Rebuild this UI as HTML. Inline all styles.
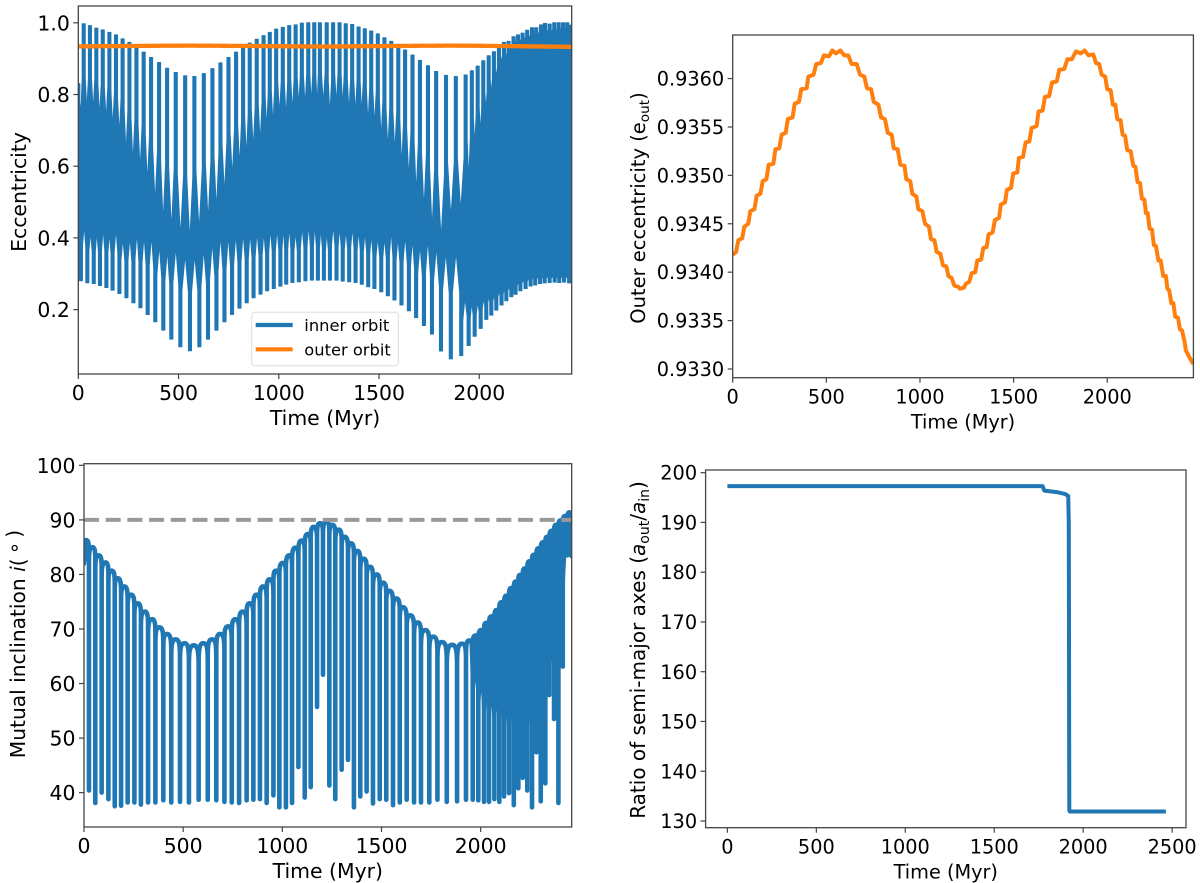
<!DOCTYPE html>
<html lang="en">
<head>
<meta charset="utf-8">
<title>Orbital evolution panels</title>
<style>
html,body{margin:0;padding:0;background:#fff;}
svg{display:block;font-family:"DejaVu Sans","Liberation Sans",sans-serif;fill:#000;}
</style>
</head>
<body>
<svg id="figure" xmlns="http://www.w3.org/2000/svg" width="1200" height="883" viewBox="0 0 1200 883"></svg>
<script>
// ---------- Panel A: inner orbit eccentricity ----------
const innerPeakTimes = [0,27,58,90,122,155,188,221,255,290,326,363,403,443,486,533,579,626,669,709,749,787,822,855,890,924,955,987,1020,1052,1084,1115,1147,1177,1205,1239,1271,1303,1334,1366,1398,1429,1461,1494,1527,1561,1596,1630,1667,1704,1744,1785,1834,1883,1932,1963,1992,2020,2047,2073,2098,2123,2146,2171,2193,2216,2239,2263,2284,2308,2328,2351,2374,2396,2418,2439,2456];
const innerPeakValues = [.83,.997,.992,.985,.98,.973,.966,.955,.945,.932,.918,.903,.889,.873,.861,.852,.85,.858,.872,.888,.903,.918,.931,.943,.954,.964,.973,.982,.987,.992,.994,.999,1,1,1,1,1,1,.997,.995,.988,.983,.977,.969,.958,.948,.936,.924,.91,.895,.88,.864,.853,.85,.854,.866,.879,.894,.908,.919,.931,.945,.948,.961,.966,.971,.979,.986,.986,.994,.998,.996,1,1,1,1,.993];
const innerNotchValues = [.743,.747,.747,.729,.72,.70,.678,.627,.599,.58,.543,.487,.431,.413,.394,.385,.413,.44,.468,.515,.561,.59,.613,.64,.655,.692,.706,.738,.729,.743,.757,.761,.766,.761,.768,.734,.766,.761,.743,.738,.738,.71,.706,.668,.636,.631,.59,.557,.515,.47,.413,.39,.45,.47,.552,.65,.683,.747,.794,.84,.887,.896,.924,.94,.945,.95,.955,.96,.965,.97,.97,.97,.97,.975,.975,.97];
const innerTroughTimes = [13,45,77,108,140,171,205,240,275,310,346,384,424,464,509,557,604,647,689,729,767,804,840,874,909,942,975,1008,1037,1068,1100,1133,1165,1195,1225,1255,1288,1319,1351,1383,1414,1446,1477,1511,1544,1577,1612,1649,1685,1724,1764,1809,1858,1910,1947,1977,2007,2035,2060,2085,2111,2135,2160,2181,2205,2231,2256,2279,2303,2326,2351,2376,2399,2423,2448];
const innerTroughValues = [.2807,.2751,.2733,.2677,.2621,.2547,.2454,.2333,.2193,.2054,.1868,.1663,.1431,.118,.0966,.0854,.0966,.118,.1431,.1663,.1868,.2044,.2193,.2333,.2435,.2528,.2593,.2658,.2714,.276,.2779,.2807,.2826,.2826,.2826,.2826,.2826,.2797,.278,.276,.271,.264,.259,.25,.239,.227,.213,.197,.178,.156,.132,.085,.063,.072,.1,.126,.148,.173,.185,.199,.213,.225,.236,.243,.253,.259,.266,.269,.273,.275,.276,.277,.276,.277,.275];
const innerGapValues = [.441,.422,.422,.431,.422,.431,.403,.408,.422,.413,.413,.385,.371,.38,.357,.357,.375,.394,.413,.413,.417,.422,.422,.422,.422,.431,.431,.436,.436,.422,.436,.441,.441,.431,.422,.441,.436,.427,.436,.427,.422,.417,.408,.408,.427,.408,.413,.403,.385,.403,.38,.366,.366,.236,.225,.225,.235,.245,.245,.255,.26,.268,.272,.28,.285,.29,.295,.295,.295,.295,.295,.295,.295,.295];

// ---------- Panels A + C: outer orbit eccentricity ----------
const outerTimes = [0,18,30,51,62,83,94,116,128,148,160,180,192,217,228,249,261,283,294,320,331,354,366,395,404,432,446,471,487,514,532,552,575,596,617,635,662,680,703,717,739,753,778,792,813,828,849,860,881,895,917,927,948,959,981,991,1013,1027,1048,1059,1077,1089,1109,1123,1141,1152,1169,1184,1204,1213,1235,1245,1263,1276,1295,1306,1327,1338,1356,1366,1388,1400,1422,1432,1454,1464,1486,1498,1520,1528,1550,1564,1584,1596,1623,1633,1655,1667,1690,1705,1730,1744,1771,1787,1811,1833,1858,1879,1900,1925,1940,1957,1970,1989,2000,2018,2030,2043,2054,2071,2082,2095,2107,2125,2139,2150,2162,2175,2185,2198,2207,2216,2226,2239,2249,2260,2273,2285,2299,2313,2321,2331,2342,2353,2363,2378,2388,2399,2413,2420,2442,2460];
const outerValues = [.93418,.93421,.93433,.93435,.93447,.9345,.93463,.93465,.93479,.93481,.93494,.93496,.93511,.93512,.93527,.93528,.93542,.93544,.93558,.9356,.93574,.93576,.93589,.9359,.93602,.93604,.93615,.93616,.93624,.93623,.93629,.93626,.93629,.93624,.93624,.93615,.93615,.93604,.93602,.9359,.93589,.93576,.93573,.9356,.93558,.93544,.93542,.93528,.93527,.93511,.9351,.93496,.93494,.93481,.93478,.93465,.93463,.9345,.93447,.93434,.93433,.93421,.93419,.93407,.93406,.93396,.93394,.93386,.93385,.93383,.93384,.93388,.9339,.93399,.934,.93412,.93413,.93425,.93426,.93439,.93441,.93454,.93456,.9347,.93472,.93485,.93487,.93502,.93503,.93518,.93519,.93534,.93535,.93549,.93551,.93566,.93567,.93581,.93582,.93596,.93597,.93609,.9361,.9362,.9362,.93628,.93626,.93629,.93624,.93625,.93616,.93615,.93604,.93602,.93589,.93588,.93573,.93573,.93558,.93557,.93542,.93541,.93526,.93525,.9351,.93509,.93493,.93492,.93476,.93475,.93461,.93461,.93445,.93444,.93428,.93427,.93412,.93412,.93396,.93396,.93383,.93381,.93368,.93368,.93354,.93353,.93341,.9334,.93328,.93319,.93311,.93305];

// ---------- Panel B: mutual inclination ----------
const lobeTimes = [0,10,42,74,108,139,170,203,237,271,306,343,380,418,462,506,553,602,645,686,726,763,800,835,871,903,936,968,1002,1035,1066,1097,1128,1158,1190,1222,1252,1284,1314,1346,1378,1410,1442,1476,1508,1540,1575,1608,1645,1682,1721,1761,1805,1856,1906,1943,1973,2002,2027,2054,2081,2104,2130,2153,2177,2198,2222,2246,2267,2291,2314,2335,2358,2380,2402,2425,2447];
const lobeValues = [82,86.3,85,83.5,82.2,80.7,79.3,77.8,76.3,74.7,73.2,71.8,70.3,69.1,68.1,67.4,67,67.4,68.1,69.1,70.5,71.8,73.2,74.7,76.3,77.8,79.1,80.7,82.1,83.5,84.9,86.2,87.4,88.7,89.4,89.7,89.1,88.2,86.9,85.7,84.3,82.9,81.4,80,78.5,77,75.6,74,72.5,71.2,69.8,68.6,67.6,67.1,67.3,67.9,68.8,69.8,71.1,72.3,73.5,74.9,76.1,77.5,78.7,79.9,81.1,82.4,83.6,84.8,85.9,86.9,88,89.1,89.9,90.7,91.4];
const spikeTimes = [25,57,89,123,155,187,220,254,287,323,360,400,440,484,529,578,624,667,708,745,782,820,854,887,921,955,985,1018,1049,1081,1113,1143,1175,1205,1237,1267,1299,1331,1361,1393,1425,1457,1491,1524,1558,1592,1627,1664,1699,1741,1782,1829,1881,1926,1960,1988,2017,2042,2069,2094,2118,2143,2167,2190,2212,2235,2259,2281,2303,2326,2346,2370,2392,2414,2437];
const spikeValues = [40.4,38.1,40,38.8,37.5,37.6,38.2,38.2,37.8,38.2,38.2,38.6,38.2,38.3,38.2,38.7,38.7,38.6,38.3,38.2,38.1,38.6,38.7,38.8,38.1,39.5,37.3,37.3,38.1,44.7,39.1,41,55.7,61.6,41.3,38.8,44.2,46,37.3,39.3,40.2,38,38.8,38.7,37.7,38.2,38.7,38.2,38.2,38.2,38.7,38.3,38.4,38.7,38.7,38.6,38.3,38.3,38.8,38.3,39.3,39.9,37.7,40.8,42.7,40.4,37.3,47.4,38.4,41.7,57.9,53.5,38.1,63.1,83.5];
const denseFloorTimes = [1930,1980,2030,2081,2131,2182,2232,2266,2300,2341,2383,2417,2459];
const denseFloorValues = [63.1,60.1,56.4,55.2,54,53.3,52.7,54.6,57,63.7,65.6,78.4,82.7];
const referenceInclination = 90;

// ---------- Panel D: semi-major axis ratio ----------
const ratioTimes = [0,1772,1778,1782,1850,1900,1916,1919,1920,1921,1922,1925,2465];
const ratioValues = [197.3,197.3,196.7,196.4,196.1,195.7,195.3,190,175,150,132.2,131.9,131.9];

// ---------- Tick labels ----------
const eccXTicks = [0,500,1000,1500,2000];
const eccYTicks = ["0.2","0.4","0.6","0.8","1.0"];
const incXTicks = [0,500,1000,1500,2000];
const incYTicks = [40,50,60,70,80,90,100];
const outerXTicks = [0,500,1000,1500,2000];
const outerYTicks = ["0.9330","0.9335","0.9340","0.9345","0.9350","0.9355","0.9360"];
const ratioXTicks = [0,500,1000,1500,2000,2500];
const ratioYTicks = [130,140,150,160,170,180,190,200];

const BLUE = "#1f77b4", ORANGE = "#ff7f0e", SPINE = "#444", NS = "http://www.w3.org/2000/svg";
const svg = document.getElementById("figure");

function make(tag, parent, attrs) {
  const node = document.createElementNS(NS, tag);
  for (const key in attrs) node.setAttribute(key, attrs[key]);
  parent.appendChild(node);
  return node;
}
function linear(d0, d1, r0, r1) {
  return v => r0 + (v - d0) * (r1 - r0) / (d1 - d0);
}
function polyPath(xs, ys, x, y) {
  return xs.map((t, i) => (i ? "L" : "M") + x(t).toFixed(2) + " " + y(ys[i]).toFixed(2)).join("");
}

function axes(key, box, xDomain, yDomain, xTicks, yTicks) {
  const fs = box.fs;
  const group = make("g", svg, {});
  
  
  const x = linear(xDomain[0], xDomain[1], box.l, box.r);
  const y = linear(yDomain[0], yDomain[1], box.b, box.t);
  const defs = make("defs", group, {});
  const clip = make("clipPath", defs, { id: key + "-clip" });
  make("rect", clip, { x: box.l, y: box.t, width: box.r - box.l, height: box.b - box.t });
  const plot = make("g", group, { "clip-path": "url(#" + key + "-clip)" });
  
  
  const ticksGroup = make("g", group, {});
  
  
  xTicks.forEach(v => {
    const px = x(+v);
    const mark = make("line", ticksGroup, { x1: px, x2: px, y1: box.b, y2: box.b + 5, stroke: SPINE, "stroke-width": 1.2 });
    
    
    const label = make("text", ticksGroup, { x: px, y: box.b + 26, "text-anchor": "middle", "font-size": fs });
    
    
    label.textContent = v;
  });
  yTicks.forEach(v => {
    const py = y(+v);
    const mark = make("line", ticksGroup, { x1: box.l - 5, x2: box.l, y1: py, y2: py, stroke: SPINE, "stroke-width": 1.2 });
    
    
    const label = make("text", ticksGroup, { x: box.l - 8.5, y: py + fs * 0.365, "text-anchor": "end", "font-size": fs });
    
    
    label.textContent = v;
  });
  const frame = make("rect", group, { x: box.l, y: box.t, width: box.r - box.l, height: box.b - box.t, fill: "none", stroke: SPINE, "stroke-width": 1.3 });
  
  
  const xTitle = make("text", group, { x: (box.l + box.r) / 2, y: box.b + 51, "text-anchor": "middle", "font-size": fs });
  
  
  xTitle.textContent = "Time (Myr)";
  return { x, y, plot, group };
}

function yTitle(parent, cx, cy, fs, parts) {
  const t = make("text", parent, { transform: "translate(" + cx + " " + cy + ") rotate(-90)", "text-anchor": "middle", "font-size": fs });
  
  
  parts.forEach(p => {
    const span = make("tspan", t, {});
    if (p.italic) span.setAttribute("font-style", "italic");
    if (p.sub) { span.setAttribute("font-size", fs * 0.7); span.setAttribute("dy", 4); }
    if (p.up) span.setAttribute("dy", -4);
    span.textContent = p.s;
  });
}

// builds one tooth edge: a stem of constant width that tapers into a sharp slit tip
function toothEdge(out, xs, ys, tips, x, y) {
  const halfLobe = 1.45, stemShare = 0.6;
  xs.forEach((t, i) => {
    const px = x(t), py = y(ys[i]);
    const hasNext = i < tips.length && i + 1 < xs.length;
    out.push([px - halfLobe, py], [px + halfLobe, py]);
    if (hasNext) {
      const nx = x(xs[i + 1]), ny = y(ys[i + 1]), ty = y(tips[i]);
      out.push([px + halfLobe, py + (ty - py) * stemShare]);
      out.push([(px + nx) / 2, ty]);
      out.push([nx - halfLobe, ny + (ty - ny) * stemShare]);
    }
  });
  return out;
}

// ---------- Panel A drawing ----------
const A = axes("eccentricity", { l: 78.3, r: 571.7, t: 6, b: 374, fs: 20.4 }, [0, 2461], [.0204, 1.0469], eccXTicks, eccYTicks);
yTitle(A.group, 26, 192, 20.4, [{ s: "Eccentricity" }]);
(function () {
  const top = toothEdge([], innerPeakTimes, innerPeakValues, innerNotchValues, A.x, A.y);
  const bottom = toothEdge([], innerTroughTimes, innerTroughValues, innerGapValues, A.x, A.y);
  const first = [[A.x(0) - 4, A.y(.29)]];
  const last = [[A.x(2461) + 4, A.y(.985)], [A.x(2461) + 4, A.y(.277)]];
  const pts = first.concat(top, last, bottom.reverse());
  const band = make("path", A.plot, {
    d: "M" + pts.map(p => p[0].toFixed(2) + " " + p[1].toFixed(2)).join("L") + "Z",
    fill: BLUE, stroke: BLUE, "stroke-width": 1.2, "stroke-linejoin": "round"
  });
  
  
  const outerLine = make("path", A.plot, { d: polyPath(outerTimes, outerValues, A.x, A.y), fill: "none", stroke: ORANGE, "stroke-width": 4.3 });
  
  
})();
(function () {
  const legend = make("g", A.group, {});
  
  
  make("rect", legend, { x: 251.7, y: 312.3, width: 146.6, height: 53.4, rx: 3, fill: "#fff", "fill-opacity": .85, stroke: "#ddd", "stroke-width": 1 });
  const swatch1 = make("line", legend, { x1: 255.7, x2: 292.7, y1: 325, y2: 325, stroke: BLUE, "stroke-width": 4.2 });
  
  
  const label1 = make("text", legend, { x: 304.3, y: 331, "font-size": 16.3 });
  
  
  label1.textContent = "inner orbit";
  const swatch2 = make("line", legend, { x1: 255.7, x2: 292.7, y1: 349.3, y2: 349.3, stroke: ORANGE, "stroke-width": 4.2 });
  
  
  const label2 = make("text", legend, { x: 304.3, y: 355.5, "font-size": 16.3 });
  
  
  label2.textContent = "outer orbit";
})();

// ---------- Panel B drawing ----------
const B = axes("inclination", { l: 84, r: 571.7, t: 463.7, b: 827, fs: 20.4 }, [0, 2459], [33.7, 100.3], incXTicks, incYTicks);
yTitle(B.group, 25, 644, 20.2, [{ s: "Mutual inclination " }, { s: "i", italic: true }, { s: "(\u2009" }, { s: "∘", up: true }, { s: "\u2009)" }]);
(function () {
  let d = "M" + B.x(lobeTimes[0]).toFixed(2) + " " + B.y(lobeValues[0]).toFixed(2);
  const leg = (x0, y0, x1, drop) => {
    const h = x1 - x0;
    return { c1x: x0 + 0.8 * h, c1y: y0, c2x: x1, c2y: y0 + 0.3 * drop, ex: x1, ey: y0 + drop };
  };
  for (let k = 1; k < lobeTimes.length; k++) {
    const xl = B.x(lobeTimes[k]), yl = B.y(lobeValues[k]);
    const sPrev = spikeTimes[k - 2];
    if (k >= 2 && sPrev !== undefined) {
      const xs = B.x(sPrev);
      const drop = Math.abs(xl - xs) * 4;
      const seg = leg(xl, yl, xs, drop);
      d += "L" + seg.ex.toFixed(2) + " " + seg.ey.toFixed(2);
      d += "C" + seg.c2x.toFixed(2) + " " + seg.c2y.toFixed(2) + " " + seg.c1x.toFixed(2) + " " + seg.c1y.toFixed(2) + " " + xl.toFixed(2) + " " + yl.toFixed(2);
    } else {
      d += "L" + xl.toFixed(2) + " " + yl.toFixed(2);
    }
    const sNext = spikeTimes[k - 1];
    if (sNext !== undefined) {
      const xs = B.x(sNext);
      const drop = Math.abs(xs - xl) * 4;
      const seg = leg(xl, yl, xs, drop);
      d += "C" + seg.c1x.toFixed(2) + " " + seg.c1y.toFixed(2) + " " + seg.c2x.toFixed(2) + " " + seg.c2y.toFixed(2) + " " + seg.ex.toFixed(2) + " " + seg.ey.toFixed(2);
      d += "L" + xs.toFixed(2) + " " + B.y(spikeValues[k - 1]).toFixed(2);
    }
  }
  // dense late-time region: its lower edge is toothed so slit tips stay sharp
  const floorAt = t => {
    let i = 0;
    while (i < denseFloorTimes.length - 2 && t > denseFloorTimes[i + 1]) i++;
    const f = (t - denseFloorTimes[i]) / (denseFloorTimes[i + 1] - denseFloorTimes[i]);
    return denseFloorValues[i] + f * (denseFloorValues[i + 1] - denseFloorValues[i]);
  };
  const dense = [];
  lobeTimes.forEach((t, i) => { if (t >= 1930) dense.push([B.x(t), B.y(lobeValues[i])]); });
  dense.push([B.x(2459), B.y(91.4)]);
  const lateSpikes = spikeTimes.filter(t => t >= 1930).reverse();
  dense.push([B.x(2459), B.y(floorAt(2459))]);
  lateSpikes.forEach((t, i) => {
    const next = lateSpikes[i + 1];
    const toothDepth = Math.min(B.y(spikeValues[spikeTimes.indexOf(t)]), B.y(floorAt(t)) + 30);
    dense.push([B.x(t) + 1, toothDepth], [B.x(t) - 1, toothDepth]);
    if (next !== undefined) dense.push([B.x((t + next) / 2), B.y(floorAt((t + next) / 2))]);
  });
  const fill = make("path", B.plot, { d: "M" + dense.map(p => p[0].toFixed(2) + " " + p[1].toFixed(2)).join("L") + "Z", fill: BLUE });
  
  
  const curve = make("path", B.plot, { d: d, fill: "none", stroke: BLUE, "stroke-width": 4.6, "stroke-linejoin": "round", "stroke-linecap": "round" });
  
  
  const ref = make("line", B.plot, { x1: B.x(0), x2: B.x(2459), y1: B.y(referenceInclination), y2: B.y(referenceInclination), stroke: "#999", "stroke-width": 4, "stroke-dasharray": "15 6.7" });
  
  
})();

// ---------- Panel C drawing ----------
const C = axes("outer-eccentricity", { l: 732.7, r: 1193.4, t: 35, b: 377.7, fs: 19.3 }, [0, 2460], [.93291, .93645], outerXTicks, outerYTicks);
yTitle(C.group, 645, 208, 19.5, [{ s: "Outer eccentricity (e" }, { s: "out", sub: true }, { s: ")", up: true }]);
(function () {
  const line = make("path", C.plot, { d: polyPath(outerTimes, outerValues, C.x, C.y), fill: "none", stroke: ORANGE, "stroke-width": 4, "stroke-linejoin": "round" });
  
  
})();

// ---------- Panel D drawing ----------
const D = axes("axis-ratio", { l: 705.6, r: 1186, t: 470, b: 827.7, fs: 19.3 }, [-122.5, 2578], [128.65, 200.54], ratioXTicks, ratioYTicks);
yTitle(D.group, 645, 650, 20, [{ s: "Ratio of semi-major axes (" }, { s: "a", italic: true }, { s: "out", sub: true }, { s: "/", up: true }, { s: "a", italic: true }, { s: "in", sub: true }, { s: ")", up: true }]);
(function () {
  const line = make("path", D.plot, { d: polyPath(ratioTimes, ratioValues, D.x, D.y), fill: "none", stroke: BLUE, "stroke-width": 4, "stroke-linejoin": "round", "stroke-linecap": "butt" });
  
  
})();
</script>
</body>
</html>
